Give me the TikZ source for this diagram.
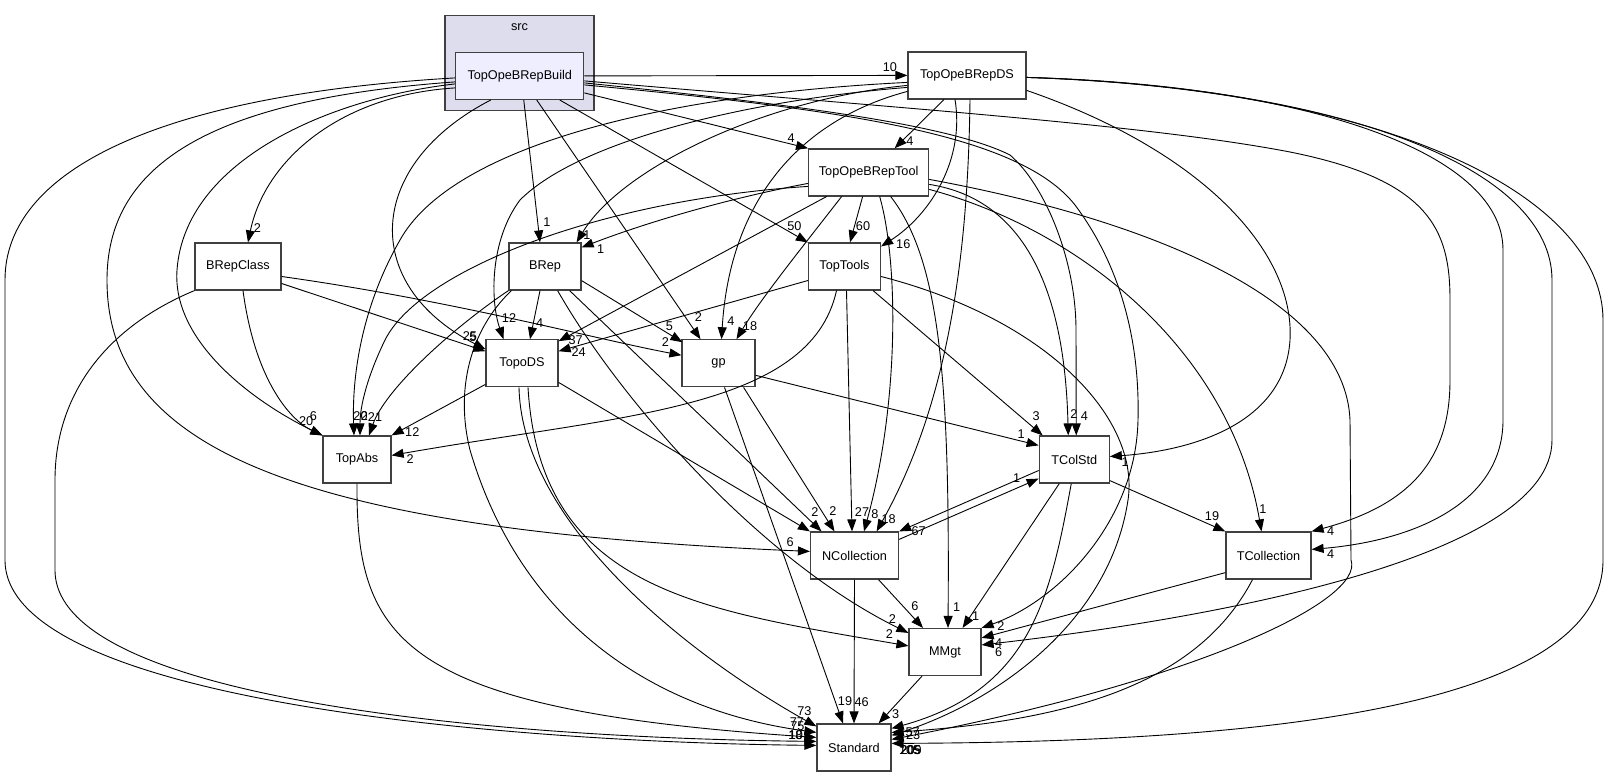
\documentclass[tikz,border=0pt]{standalone}
\usepackage{fontspec}
\setmainfont{Liberation Sans}
\usetikzlibrary{arrows.meta}
\definecolor{clusterfill}{HTML}{DDDDEE}
\definecolor{focusfill}{HTML}{EEEEFF}
\definecolor{boxline}{HTML}{404040}
\tikzset{
  box/.style={draw=boxline, fill=white, line width=1.2pt, minimum height=47, inner sep=0pt, font=\fontsize{12.7}{14}\selectfont},
  cluster/.style={draw=boxline, fill=clusterfill, line width=1.2pt, inner sep=0pt},
  dep/.style={-{Triangle[length=12pt,width=9pt]}, line width=0.9pt},
  lbl/.style={inner sep=0pt, font=\fontsize{12.7}{14}\selectfont},
}
\begin{document}
\begin{tikzpicture}[x=1pt,y=-1pt]
\useasboundingbox (0,0) rectangle (1609,777);
% 目录 src
\node[cluster, minimum width=149, minimum height=95] (src) at (519.5,62.7) {};
\node[lbl] (srcname) at (519.5,27.5) {src};
\node[box, fill=focusfill, minimum width=128] (build) at (519.75,75.9) {TopOpeBRepBuild};
\foreach \nm/\txt/\cx/\cy/\w in {
    ds/TopOpeBRepDS/967/75.4/118,
    tool/TopOpeBRepTool/868.65/172.4/120,
    brepclass/BRepClass/238/266.5/86,
    brep/BRep/545/266.5/72,
    toptools/TopTools/844.5/266.5/72,
    topods/TopoDS/522/363.3/72,
    gp/gp/718.5/363.3/73,
    topabs/TopAbs/357/459.5/68,
    tcolstd/TColStd/1074.25/459.5/70,
    ncoll/NCollection/854.5/555.5/88,
    tcoll/TCollection/1268.5/555.5/85,
    mmgt/MMgt/945/652/72,
    standard/Standard/854/747.5/74}{ %逐个放置各个包
  \node[box, minimum width=\w] (\nm) at (\cx,\cy) {\txt};
}

% TopOpeBRepBuild 的依赖
\draw[dep] (build.east) -- (ds.west) node[lbl, shift={(-17.5,-8.5)}] {10};
\draw[dep] ([shift={(0,17)}]build.east) -- (tool.north west) node[lbl, shift={(-17,-10)}] {4};
\draw[dep] ([shift={(4,0)}]build.south) -- ([shift={(-5,0)}]brep.north) node[lbl, shift={(7,-20.5)}] {1};
\draw[dep] ([shift={(40,0)}]build.south) -- (toptools.north west) node[lbl, shift={(-13.5,-16.3)}] {50};
\draw[dep] ([shift={(17,0)}]build.south) -- ([shift={(-18,0)}]gp.north) node[lbl, shift={(-2,-22)}] {2};
\draw[dep] ([shift={(-29,0)}]build.south) .. controls (365,165) and (360,285) .. ([shift={(0,10)}]topods.north west) node[lbl, shift={(-15.5,-13)}] {25};
\draw[dep] ([shift={(0,12)}]build.west) .. controls (340,95) and (265,160) .. ([shift={(10,0)}]brepclass.north) node[lbl, shift={(9.5,-14)}] {2};
\draw[dep] ([shift={(0,8)}]build.west) .. controls (330,98) and (185,160) .. (177,270) .. controls (172,340) and (250,400) .. (topabs.north west) node[lbl, shift={(-16.3,-14)}] {20};
\draw[dep] ([shift={(0,6)}]build.west) .. controls (200,100) and (107,170) .. (107,280) .. controls (107,450) and (300,530) .. ([shift={(0,20)}]ncoll.north west) node[lbl, shift={(-19.8,-9.7)}] {6};
\draw[dep] ([shift={(0,2)}]build.west) .. controls (160,95) and (5,170) .. (5,280) -- (5,560) .. controls (5,700) and (500,742) .. ([shift={(0,22)}]standard.north west) node[lbl, shift={(-21,-10)}] {18};
\draw[dep] ([shift={(0,7)}]build.east) .. controls (800,105) and (950,125) .. (1010,155) .. controls (1045,185) and (1076,260) .. (1076,330) -- ([shift={(2,0)}]tcolstd.north) node[lbl, shift={(8.25,-19.3)}] {4};
\draw[dep] ([shift={(0,9)}]build.east) .. controls (850,110) and (1020,135) .. (1075,205) .. controls (1120,265) and (1140,340) .. (1138,420) .. controls (1136,520) and (1060,600) .. (mmgt.north east) node[lbl, shift={(19.4,-1.8)}] {2};
\draw[dep] ([shift={(0,5)}]build.east) .. controls (900,108) and (1150,125) .. (1290,152) .. controls (1430,180) and (1450,230) .. (1450,300) -- (1450,380) .. controls (1450,460) and (1410,505) .. (tcoll.north east) node[lbl, shift={(19,0)}] {4};

% TopOpeBRepDS 的依赖
\draw[dep] ([shift={(-23,0)}]ds.south) -- ([shift={(26,0)}]tool.north) node[lbl, shift={(15.3,-7.2)}] {4};
\draw[dep] ([shift={(0,10)}]ds.west) .. controls (760,100) and (620,170) .. ([shift={(-5,0)}]brep.north east) node[lbl, shift={(10.4,-7)}] {1};
\draw[dep] ([shift={(-12,0)}]ds.south) .. controls (965,160) and (930,215) .. ([shift={(0,4)}]toptools.north east) node[lbl, shift={(22.2,-2.7)}] {16};
\draw[dep] ([shift={(0,12)}]ds.west) .. controls (750,100) and (580,140) .. (520,200) .. controls (490,240) and (490,300) .. ([shift={(-18.5,0)}]topods.north) node[lbl, shift={(5.5,-21.5)}] {12};
\draw[dep] ([shift={(0,16)}]ds.west) .. controls (800,120) and (730,200) .. ([shift={(3,0)}]gp.north) node[lbl, shift={(9.5,-18)}] {4};
\draw[dep] ([shift={(0,7)}]ds.west) .. controls (650,95) and (450,150) .. (400,240) .. controls (360,310) and (352,380) .. ([shift={(-3,0)}]topabs.north) node[lbl, shift={(6.5,-19.5)}] {20};
\draw[dep] ([shift={(3,0)}]ds.south) .. controls (968,250) and (950,400) .. ([shift={(-22.5,0)}]ncoll.north east) node[lbl, shift={(12,-12)}] {18};
\draw[dep] ([shift={(0,15)}]ds.east) .. controls (1200,150) and (1295,250) .. (1290,340) .. controls (1285,420) and (1200,450) .. ([shift={(0,-3)}]tcolstd.east) node[lbl, shift={(15.25,5.2)}] {1};
\draw[dep] ([shift={(0,2)}]ds.east) .. controls (1300,85) and (1503,150) .. (1503,250) -- (1503,420) .. controls (1503,500) and (1420,540) .. ([shift={(0,18)}]tcoll.north east) node[lbl, shift={(19,5)}] {4};
\draw[dep] ([shift={(0,2)}]ds.east) .. controls (1350,88) and (1552,170) .. (1552,280) -- (1552,440) .. controls (1552,560) and (1200,620) .. ([shift={(0,17)}]mmgt.north east) node[lbl, shift={(17,7.2)}] {6};
\draw[dep] ([shift={(0,2)}]ds.east) .. controls (1400,90) and (1603,200) .. (1603,320) -- (1603,560) .. controls (1603,720) and (1200,742) .. ([shift={(0,20)}]standard.north east) node[lbl, shift={(19.5,7)}] {209};

% TopOpeBRepTool 的依赖
\draw[dep] ([shift={(0,11)}]tool.west) .. controls (720,200) and (640,225) .. ([shift={(0,5)}]brep.north east) node[lbl, shift={(19,2)}] {1};
\draw[dep] ([shift={(0,14)}]tool.west) .. controls (600,200) and (420,270) .. (385,340) .. controls (368,375) and (360,405) .. ([shift={(3,0)}]topabs.north) node[lbl, shift={(4.5,-19.5)}] {2};
\draw[dep] ([shift={(-6,0)}]tool.south) -- ([shift={(5.5,0)}]toptools.north) node[lbl, shift={(13,-16.3)}] {60};
\draw[dep] ([shift={(-42,0)}]tool.south) -- ([shift={(0,2)}]topods.north east) node[lbl, shift={(17,-1)}] {37};
\draw[dep] ([shift={(-27,0)}]tool.south) .. controls (800,250) and (760,300) .. ([shift={(18,0)}]gp.north) node[lbl, shift={(13.5,-13)}] {18};
\draw[dep] ([shift={(11,0)}]tool.south) .. controls (898,260) and (900,400) .. ([shift={(9.5,0)}]ncoll.north) node[lbl, shift={(11,-17)}] {8};
\draw[dep] ([shift={(22,0)}]tool.south) .. controls (940,260) and (950,380) .. ([shift={(3,0)}]mmgt.north) node[lbl, shift={(8.7,-20.5)}] {1};
\draw[dep] ([shift={(0,12)}]tool.east) .. controls (1030,200) and (1065,300) .. ([shift={(-6,0)}]tcolstd.north) node[lbl, shift={(5.75,-21)}] {2};
\draw[dep] ([shift={(0,17)}]tool.east) .. controls (1080,230) and (1230,350) .. ([shift={(-7,0)}]tcoll.north) node[lbl, shift={(1.5,-22)}] {1};
\draw[dep] ([shift={(0,7)}]tool.east) .. controls (1150,220) and (1345,300) .. (1350,420) -- (1351,560) .. controls (1365,600) and (1200,680) .. ([shift={(0,16)}]standard.north east) node[lbl, shift={(19,11)}] {205};

% TopTools 的依赖
\draw[dep] ([shift={(0,14)}]toptools.west) -- ([shift={(0,12)}]topods.north east) node[lbl, shift={(20,1.2)}] {24};
\draw[dep] ([shift={(-8,0)}]toptools.south) .. controls (810,410) and (620,415) .. ([shift={(0,20)}]topabs.north east) node[lbl, shift={(18.5,4)}] {2};
\draw[dep] ([shift={(2,0)}]toptools.south) -- ([shift={(-2.5,0)}]ncoll.north) node[lbl, shift={(10,-19)}] {27};
\draw[dep] ([shift={(-8,0)}]toptools.south east) -- ([shift={(4,0)}]tcolstd.north west) node[lbl, shift={(-6.5,-19.3)}] {3};
\draw[dep] ([shift={(0,10)}]toptools.east) .. controls (1050,320) and (1140,420) .. (1128,500) .. controls (1110,620) and (1000,700) .. ([shift={(0,12)}]standard.north east) node[lbl, shift={(18,15)}] {105};

% BRepClass 的依赖
\draw[dep] ([shift={(0,17)}]brepclass.east) -- ([shift={(0,12)}]topods.north west) node[lbl, shift={(-12.5,-14.3)}] {5};
\draw[dep] ([shift={(0,10)}]brepclass.east) .. controls (450,300) and (600,340) .. ([shift={(0,16)}]gp.north west) node[lbl, shift={(-16,-13)}] {2};
\draw[dep] ([shift={(5,0)}]brepclass.south) .. controls (255,380) and (290,420) .. (topabs.north west) node[lbl, shift={(-9,-19)}] {6};
\draw[dep] (brepclass.south west) .. controls (100,330) and (55,400) .. (55,480) -- (55,570) .. controls (55,700) and (500,738) .. ([shift={(0,18)}]standard.north west) node[lbl, shift={(-20.5,-6)}] {10};

% BRep 的依赖
\draw[dep] ([shift={(-5,0)}]brep.south) -- ([shift={(8,0)}]topods.north) node[lbl, shift={(9.7,-16.5)}] {4};
\draw[dep] ([shift={(0,-10)}]brep.south east) -- ([shift={(1,3)}]gp.north west) node[lbl, shift={(-13,-16)}] {5};
\draw[dep] ([shift={(-12,0)}]brep.south east) -- ([shift={(-33,0)}]ncoll.north) node[lbl, shift={(-6.5,-19)}] {2};
\draw[dep] ([shift={(-24,0)}]brep.south east) .. controls (620,400) and (760,560) .. ([shift={(0,5)}]mmgt.north west) node[lbl, shift={(-16,-13.5)}] {2};
\draw[dep] (brep.south west) .. controls (450,330) and (385,390) .. ([shift={(12,0)}]topabs.north) node[lbl, shift={(6,-18.5)}] {21};
\draw[dep] ([shift={(3,0)}]brep.south west) .. controls (470,330) and (455,390) .. (470,450) .. controls (520,620) and (650,710) .. ([shift={(0,9)}]standard.north west) node[lbl, shift={(-19.5,-10)}] {77};

% TopoDS 的依赖
\draw[dep] ([shift={(0,-3)}]topods.south west) -- (topabs.north east) node[lbl, shift={(20.7,-3)}] {12};
\draw[dep] ([shift={(0,-5)}]topods.south east) -- (ncoll.north west);
\draw[dep] ([shift={(-3,0)}]topods.south) .. controls (522,520) and (680,650) .. ([shift={(0,3)}]standard.north west) node[lbl, shift={(-12,-15)}] {73};
\draw[dep] ([shift={(6,0)}]topods.south) .. controls (540,590) and (700,610) .. ([shift={(0,18)}]mmgt.north west) node[lbl, shift={(-19,-11.5)}] {2};

% gp 的依赖
\draw[dep] ([shift={(0,12)}]gp.east) -- ([shift={(0,10)}]tcolstd.north west) node[lbl, shift={(-17.5,-11)}] {1};
\draw[dep] ([shift={(-12,0)}]gp.south east) -- ([shift={(-20,0)}]ncoll.north) node[lbl, shift={(-1.5,-20)}] {2};
\draw[dep] ([shift={(6,0)}]gp.south) -- ([shift={(-11,0)}]standard.north) node[lbl, shift={(2,-22.3)}] {19};

% TColStd 的依赖
\draw[dep] ([shift={(0,11)}]tcolstd.west) -- (ncoll.north east) node[lbl, shift={(19.5,0)}] {67};
\draw[dep] ([shift={(-15,0)}]tcolstd.south) -- ([shift={(-19,0)}]mmgt.north east) node[lbl, shift={(13,-12)}] {1};
\draw[dep] ([shift={(-3,0)}]tcolstd.south) .. controls (1050,600) and (1030,690) .. ([shift={(0,5)}]standard.north east) node[lbl, shift={(21,4)}] {57};
\draw[dep] ([shift={(0,-3)}]tcolstd.south east) -- (tcoll.north west) node[lbl, shift={(-13.4,-15.3)}] {19};

% NCollection, MMgt, TCollection, TopAbs
\draw[dep] ([shift={(0,8)}]ncoll.north east) -- ([shift={(0,-5)}]tcolstd.south west) node[lbl, shift={(-22,0)}] {1};
\draw[dep] ([shift={(24,0)}]ncoll.south) -- ([shift={(-22,0)}]mmgt.north) node[lbl, shift={(-8,-21.8)}] {6};
\draw[dep] (ncoll.south) -- (standard.north) node[lbl, shift={(7.7,-21)}] {46};
\draw[dep] ([shift={(-23,0)}]mmgt.south) -- ([shift={(-13,0)}]standard.north east) node[lbl, shift={(17,-9)}] {3};
\draw[dep] ([shift={(0,-7)}]tcoll.south west) -- ([shift={(0,10)}]mmgt.north east) node[lbl, shift={(17,4.8)}] {4};
\draw[dep] ([shift={(-16,0)}]tcoll.south) .. controls (1200,680) and (1080,720) .. ([shift={(0,9)}]standard.north east) node[lbl, shift={(21.5,3)}] {23};
\draw[dep] (topabs.south) .. controls (356,640) and (400,710) .. ([shift={(0,14)}]standard.north west) node[lbl, shift={(-19,-11)}] {75};
\end{tikzpicture}
\end{document}
